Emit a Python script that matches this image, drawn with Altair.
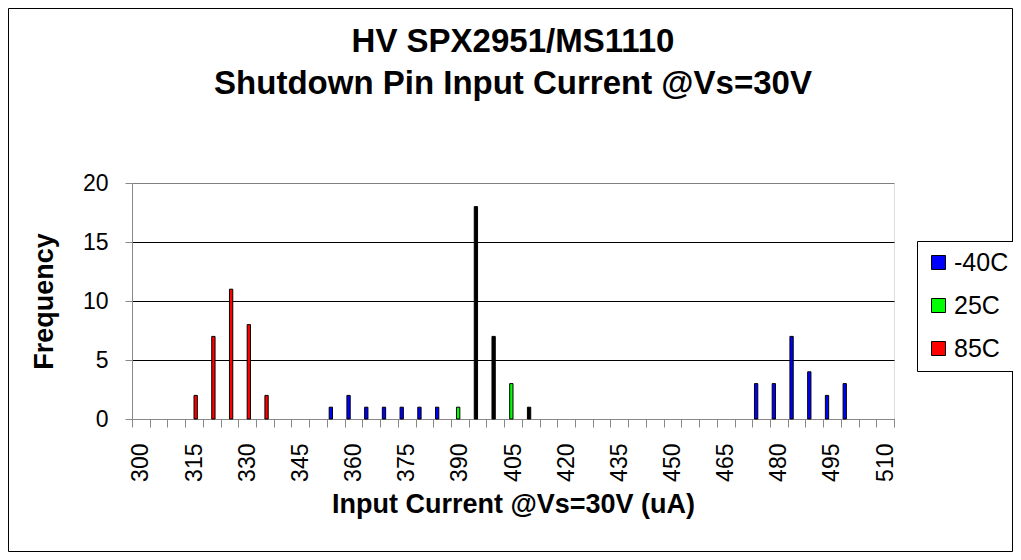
import altair as alt
import pandas as pd

# ---- data ----
categories = list(range(300, 515, 5))          # 43 histogram bins (uA)
series_names = ["-40C", "25C", "85C"]
legend_colors = ["#0000FF", "#00FF00", "#FF0000"]

m40_bins = [355, 360, 365, 370, 375, 380, 385, 475, 480, 485, 490, 495, 500]
m40_freq = [1, 2, 1, 1, 1, 1, 1, 3, 3, 7, 4, 2, 3]

c25_bins = [390, 405]
c25_freq = [1, 3]

c25b_bins = [395, 400, 410]          # black bars in the 25C slot
c25b_freq = [18, 7, 1]

c85_bins = [315, 320, 325, 330, 335]
c85_freq = [2, 7, 11, 8, 2]

rows = []
for b, f in zip(m40_bins, m40_freq):
    rows.append({"bin": b, "freq": f, "slot": "-40C", "series": "-40C"})
for b, f in zip(c25_bins, c25_freq):
    rows.append({"bin": b, "freq": f, "slot": "25C", "series": "25C"})
for b, f in zip(c25b_bins, c25b_freq):
    rows.append({"bin": b, "freq": f, "slot": "25C", "series": "25C lot B"})
for b, f in zip(c85_bins, c85_freq):
    rows.append({"bin": b, "freq": f, "slot": "85C", "series": "85C"})
df = pd.DataFrame(rows)

FONT = "Liberation Sans"
W, H = 762, 236
PL, PT = 124, 175
TOTAL_W, TOTAL_H = 1005, 544

bars = alt.Chart(df).mark_bar(stroke="black", strokeWidth=1).encode(
    x=alt.X(
        "bin:O",
        scale=alt.Scale(domain=categories, paddingInner=0, paddingOuter=0),
        sort=None,
        axis=alt.Axis(
            title="Input Current @Vs=30V (uA)",
            labelAngle=-90,
            labelExpr="datum.value % 15 == 0 ? datum.label : ''",
            labelOverlap=False,
            labelFontSize=23,
            labelPadding=16,
            tickBand="extent",
            tickSize=8,
            titleFontSize=27,
            titlePadding=10,
        ),
    ),
    xOffset=alt.XOffset(
        "slot:N",
        scale=alt.Scale(domain=["-40C", "25C", "85C", "spare"], paddingInner=0, paddingOuter=0.68),
    ),
    y=alt.Y(
        "freq:Q",
        scale=alt.Scale(domain=[0, 20], nice=False),
        axis=alt.Axis(
            title="Frequency",
            values=[0, 5, 10, 15, 20],
            labelFontSize=23,
            labelPadding=17,
            tickSize=7,
            grid=True,
            gridColor={"condition": {"test": "datum.value == 20", "value": "#808080"}, "value": "#000000"},
            gridOpacity=1,
            gridWidth=1,
            titleFontSize=27,
            titlePadding=24,
        ),
    ),
    color=alt.Color(
        "series:N",
        scale=alt.Scale(
            domain=series_names + ["25C lot B"],
            range=legend_colors + ["#000000"],
        ),
        legend=alt.Legend(
            title=None,
            values=series_names,
            orient="none",
            legendX=785,
            legendY=58,
            symbolType="square",
            symbolSize=196,
            symbolStrokeColor="black",
            symbolStrokeWidth=1,
            labelFontSize=25,
            labelFont=FONT,
            labelOffset=3,
            rowPadding=17,
            padding=9,
            strokeColor="black",
            fillColor="white",
        ),
    ),
)

frame = alt.Chart(pd.DataFrame({"k": [0]})).mark_rect(
    fill=None, stroke="black", strokeWidth=1, clip=False
).encode(
    x=alt.value(-PL + 0.5),
    x2=alt.value(TOTAL_W - PL - 0.5),
    y=alt.value(-PT + 0.5),
    y2=alt.value(TOTAL_H - PT - 0.5),
)

chart = alt.layer(bars, frame).properties(
    width=W,
    height=H,
    autosize=alt.AutoSizeParams(type="none"),
    padding={"left": PL, "top": PT, "right": TOTAL_W - PL - W, "bottom": TOTAL_H - PT - H},
    title=alt.TitleParams(
        text=["HV SPX2951/MS1110", "Shutdown Pin Input Current @Vs=30V"],
        fontSize=33,
        font=FONT,
        fontWeight="bold",
        color="black",
        anchor="middle",
        lineHeight=42,
        offset=0,
        dy=93,
    ),
).configure_view(
    stroke="#808080", strokeWidth=1
).configure_axis(
    labelFont=FONT,
    titleFont=FONT,
    labelColor="black",
    titleColor="black",
    titleFontWeight="bold",
    domainColor="black",
    tickColor="black",
).configure(background="white")

chart.save("out.html", embed_options={"renderer": "svg", "actions": False})
